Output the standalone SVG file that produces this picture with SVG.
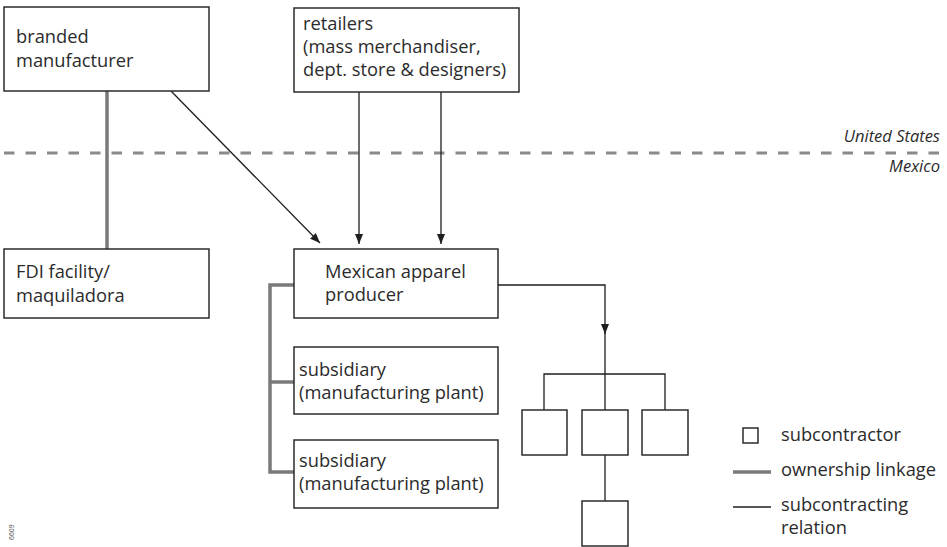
<svg xmlns="http://www.w3.org/2000/svg" width="947" height="547" viewBox="0 0 947 547">
  <style>
    .box { fill: #ffffff; stroke: #2b2b2b; stroke-width: 1.5; }
    .lbl { font-family: "Open Sans", "DejaVu Sans", sans-serif; font-size: 18.3px; fill: #2b2b2b; }
    .cty { font-family: "Open Sans", "DejaVu Sans", sans-serif; font-size: 16.5px; font-style: italic; fill: #2b2b2b; text-anchor: end; }
    .own { fill: none; stroke: #7a7a7a; stroke-width: 3.5; }
    .sub { fill: none; stroke: #1e1e1e; stroke-width: 1.3; }
  </style>
  <defs>
    <marker id="arrow" viewBox="0 0 10 8" refX="10" refY="4" markerWidth="10" markerHeight="8" markerUnits="userSpaceOnUse" orient="auto">
      <path d="M0,0 L10,4 L0,8 Z" fill="#1e1e1e"/>
    </marker>
  </defs>

  <rect width="947" height="547" fill="#ffffff"/>

  <!-- national border -->
  <g id="border">
    <line x1="4" y1="153" x2="942" y2="153" stroke="#8a8a8a" stroke-width="3" stroke-dasharray="10.5 11"/>
    <text class="cty" x="940" y="142">United States</text>
    <text class="cty" x="940" y="172">Mexico</text>
  </g>

  <!-- connectors -->
  <g id="connectors">
    <!-- ownership linkages -->
    <line class="own" x1="107" y1="91" x2="107" y2="249"/>
    <polyline class="own" points="294,285 270,285 270,472 294,472"/>
    <line class="own" x1="270" y1="382" x2="294" y2="382"/>
    <!-- subcontracting relations -->
    <line class="sub" x1="171" y1="91" x2="320" y2="243" marker-end="url(#arrow)"/>
    <line class="sub" x1="359" y1="92" x2="359" y2="244" marker-end="url(#arrow)"/>
    <line class="sub" x1="441" y1="92" x2="441" y2="244" marker-end="url(#arrow)"/>
    <polyline class="sub" points="498,285 605,285 605,334" marker-end="url(#arrow)"/>
    <line class="sub" x1="605" y1="332" x2="605" y2="410"/>
    <polyline class="sub" points="544,410 544,374 665,374 665,410"/>
    <line class="sub" x1="605" y1="455" x2="605" y2="501"/>
  </g>

  <g id="branded-manufacturer">
    <rect class="box" x="4" y="7" width="205" height="84"/>
    <text class="lbl" x="16" y="43">branded</text>
    <text class="lbl" x="16" y="67">manufacturer</text>
  </g>

  <g id="retailers">
    <rect class="box" x="294" y="8" width="225" height="84"/>
    <text class="lbl" x="303" y="30">retailers</text>
    <text class="lbl" x="303" y="53">(mass merchandiser,</text>
    <text class="lbl" x="303" y="76">dept. store &amp; designers)</text>
  </g>

  <g id="fdi-facility">
    <rect class="box" x="4" y="249" width="205" height="69"/>
    <text class="lbl" x="16" y="278">FDI facility/</text>
    <text class="lbl" x="16" y="302">maquiladora</text>
  </g>

  <g id="mexican-producer">
    <rect class="box" x="294" y="249" width="204" height="69"/>
    <text class="lbl" x="325" y="278">Mexican apparel</text>
    <text class="lbl" x="325" y="301">producer</text>
  </g>

  <g id="subsidiary-1">
    <rect class="box" x="294" y="347" width="204" height="67"/>
    <text class="lbl" x="299" y="376">subsidiary</text>
    <text class="lbl" x="299" y="399">(manufacturing plant)</text>
  </g>

  <g id="subsidiary-2">
    <rect class="box" x="294" y="440" width="204" height="68"/>
    <text class="lbl" x="299" y="467">subsidiary</text>
    <text class="lbl" x="299" y="490">(manufacturing plant)</text>
  </g>

  <g id="subcontractor-1"><rect class="box" x="522" y="410" width="45" height="45"/></g>
  <g id="subcontractor-2"><rect class="box" x="582" y="410" width="46" height="45"/></g>
  <g id="subcontractor-3"><rect class="box" x="642" y="410" width="46" height="45"/></g>
  <g id="subcontractor-4"><rect class="box" x="582" y="501" width="46" height="45"/></g>

  <!-- legend -->
  <g id="legend">
    <rect class="box" x="743" y="428" width="15" height="15"/>
    <text class="lbl" x="781" y="441">subcontractor</text>
    <line class="own" x1="733" y1="472" x2="771" y2="472"/>
    <text class="lbl" x="781" y="476">ownership linkage</text>
    <line class="sub" x1="733" y1="507" x2="771" y2="507"/>
    <text class="lbl" x="781" y="511">subcontracting</text>
    <text class="lbl" x="781" y="534">relation</text>
  </g>

  <text x="14" y="540" transform="rotate(-90 14 540)" font-family="'Liberation Sans', sans-serif" font-size="7" fill="#555555">6609</text>
</svg>
